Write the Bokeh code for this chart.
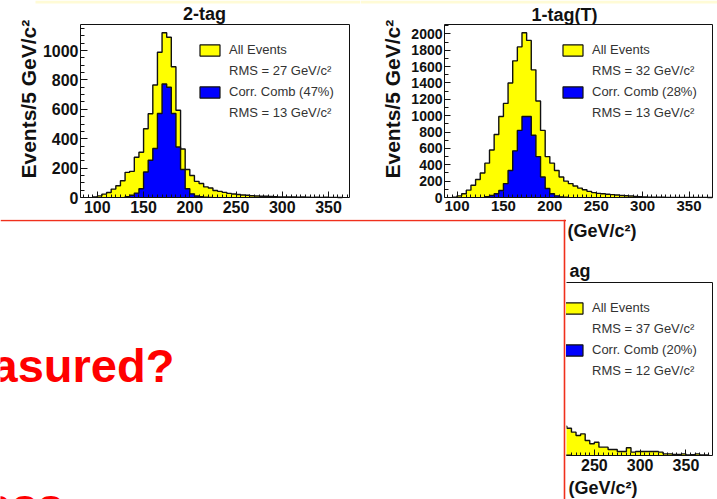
import math
from bokeh.plotting import figure
from bokeh.models import (Range1d, Legend, LegendItem, Label, Span, BoxAnnotation,
                          LinearAxis, FixedTicker)
from bokeh.layouts import row, column
from bokeh.embed import file_html
from bokeh.resources import INLINE

# ---------------- data (events per 5 GeV/c^2 bin, bin lower edges) ----------------
BIN = 5

tag2_title = "2-tag"
tag2_all_start = 95
tag2_all = [3, 11, 23, 34, 57, 80, 114, 171, 178, 274,
            308, 468, 570, 765, 988, 1121, 1090, 890, 594, 330,
            190, 150, 110, 95, 72, 65, 48, 42, 35, 28,
            24, 20, 17, 15, 12, 10, 9, 8, 7, 6,
            4, 4, 3, 3, 2, 3, 2, 1, 2, 1,
            2, 1, 1, 0]
tag2_cc_start = 130
tag2_cc = [5, 15, 30, 60, 173, 253, 333, 572, 772, 750,
           572, 344, 190, 60, 25, 10, 5, 2, 1]
tag2_labels = ["All Events", "RMS = 27 GeV/c²", "Corr. Comb (47%)", "RMS = 13 GeV/c²"]
tag2_yticks = [0, 200, 400, 600, 800, 1000]

tag1t_title = "1-tag(T)"
tag1t_all_start = 95
tag1t_all = [5, 20, 45, 90, 150, 220, 300, 420, 580, 770,
             990, 1150, 1400, 1670, 1840, 2013, 1920, 1560, 1180, 820,
             500, 420, 330, 250, 200, 170, 140, 115, 95, 75,
             60, 50, 45, 40, 35, 30, 25, 22, 18, 14,
             10, 6, 5, 4, 3, 3, 2, 2, 2, 1,
             1, 1, 2, 1, 1, 0]
tag1t_cc_start = 130
tag1t_cc = [10, 25, 45, 85, 170, 330, 570, 820, 990, 990,
            760, 500, 250, 110, 45, 20, 8, 3]
tag1t_labels = ["All Events", "RMS = 32 GeV/c²", "Corr. Comb (28%)", "RMS = 13 GeV/c²"]
tag1t_yticks = [0, 200, 400, 600, 800, 1000, 1200, 1400, 1600, 1800, 2000]

tag0_title = "ag"
tag0_all_start = 215
tag0_all = [270, 252, 216, 185, 200, 139, 108, 123, 77, 77,
            55, 55, 37, 37, 71, 31, 37, 37, 37, 37,
            37, 31, 15, 15, 10, 10, 15, 5, 8, 15,
            4, 4]
tag0_cc_start = 215
tag0_cc = [4, 2]
tag0_labels = ["All Events", "RMS = 37 GeV/c²", "Corr. Comb (20%)", "RMS = 12 GeV/c²"]

x_ticks = [100, 150, 200, 250, 300, 350]
y_label = "Events/5 GeV/c²"
x_label = "(GeV/c²)"
red_text_1 = "asured?"
red_text_2 = "ass"

YELLOW = "#ffff00"
BLUE = "#0000ff"
INK = "#111111"
RED_LINE = "#f0301c"
RED_TEXT = "#ff0000"
STRIP = "#fffbd6"
FONT = "Liberation Sans"
NAN = float("nan")


# ---------------- helpers ----------------
def make_fig(canvas, frame, xr, yr):
    """canvas=(x0,y0,w,h) page px; frame=(left,right,top,bottom) page px of the drawn plot box."""
    cx0, cy0, cw, ch = canvas
    fl, fr, ft, fb = frame
    sx = (fr - fl) / (xr[1] - xr[0])
    sy = (fb - ft) / (yr[1] - yr[0])
    x_rng = Range1d(xr[0] - (fl - cx0) / sx, xr[1] + (cx0 + cw - fr) / sx)
    y_rng = Range1d(yr[0] - (cy0 + ch - fb) / sy, yr[1] + (ft - cy0) / sy)
    p = figure(width=cw, height=ch, x_range=x_rng, y_range=y_rng,
               output_backend="svg", toolbar_location=None, min_border=0,
               x_axis_location=None, y_axis_location=None, frame_align=False,
               background_fill_color="white", border_fill_color="white")
    p.outline_line_color = None
    p.grid.visible = False
    p._canvas = canvas
    p._sx = sx
    p._sy = sy
    return p


def top_strip(p, px0, px1, thick):
    """light band along the very top of the slide"""
    cx0, cy0, cw, ch = p._canvas
    x0 = p.x_range.start + (px0 - cx0) / p._sx
    x1 = p.x_range.start + (px1 - cx0) / p._sx
    p.add_layout(BoxAnnotation(left=x0, right=x1, top=p.y_range.end,
                               bottom=p.y_range.end - thick / p._sy,
                               fill_color=STRIP, fill_alpha=1, line_alpha=0,
                               level="underlay"))


def hist(p, start, vals, color):
    x = [start + BIN * i for i in range(len(vals) + 1)]
    p.varea_step(x=x, y1=0, y2=list(vals) + [vals[-1]], step_mode="after",
                 fill_color=color)
    ox = [x[0]] + x
    oy = [0] + list(vals) + [0]
    p.step(x=ox, y=oy, mode="after", line_color=INK, line_width=1.4)


def add_axis(p, place, loc, ticks, minor, tin, min_in, size, standoff):
    ax = LinearAxis(fixed_location=loc,
                    ticker=FixedTicker(ticks=ticks, minor_ticks=minor))
    ax.major_tick_in = tin
    ax.major_tick_out = 0
    ax.minor_tick_in = min_in
    ax.minor_tick_out = 0
    ax.major_label_text_font = FONT
    ax.major_label_text_font_style = "bold"
    ax.major_label_text_font_size = size
    ax.major_label_text_color = INK
    ax.major_label_standoff = standoff
    ax.axis_line_color = None
    ax.major_tick_line_color = INK
    ax.minor_tick_line_color = INK
    p.add_layout(ax, place)


def text(p, px, py, s, size, color=INK, align="left", angle=0.0):
    """px: page x of anchor, py: page y of text baseline (horizontal text)
    or page y of anchor (rotated text)."""
    cx0, cy0, cw, ch = p._canvas
    fs = float(size.replace("px", ""))
    if angle == 0.0:
        py = py - 0.35 * fs
    p.add_layout(Label(x=px - cx0, y=cy0 + ch - py, x_units="screen", y_units="screen",
                       text=s, text_font=FONT, text_font_style="bold",
                       text_font_size=size, text_color=color, text_align=align,
                       text_baseline="middle", angle=angle))


def add_legend(p, px_left, py_bottom, labels):
    cx0, cy0, cw, ch = p._canvas
    sw_all = p.quad(left=[NAN], right=[NAN], top=[NAN], bottom=[NAN],
                    fill_color=YELLOW, line_color=INK, line_width=1.2)
    sw_cc = p.quad(left=[NAN], right=[NAN], top=[NAN], bottom=[NAN],
                   fill_color=BLUE, line_color=INK, line_width=1.2)
    blank = p.quad(left=[NAN], right=[NAN], top=[NAN], bottom=[NAN],
                   fill_alpha=0, line_alpha=0)
    items = [LegendItem(label=labels[0], renderers=[sw_all]),
             LegendItem(label=labels[1], renderers=[blank]),
             LegendItem(label=labels[2], renderers=[sw_cc]),
             LegendItem(label=labels[3], renderers=[blank])]
    leg = Legend(items=items, location=(px_left - cx0, cy0 + ch - py_bottom),
                 border_line_color=None, background_fill_alpha=0, padding=0,
                 margin=0, spacing=6, label_standoff=7, glyph_width=25,
                 glyph_height=14, label_height=14, label_text_font=FONT,
                 label_text_font_size="13px", label_text_color="#333333")
    p.add_layout(leg)


def minor_list(lo, hi, step):
    out = []
    v = lo
    while v <= hi:
        out.append(v)
        v += step
    return out


# ---------------- panel 1: 2-tag ----------------
XR_A, YR_A = (81.8, 372.7), (0, 1177)
pA = make_fig((0, 0, 360, 219), (80, 349, 24, 197), XR_A, YR_A)
top_strip(pA, 35, 360, 3)
hist(pA, tag2_all_start, tag2_all, YELLOW)
hist(pA, tag2_cc_start, tag2_cc, BLUE)
pA.add_layout(BoxAnnotation(left=XR_A[0], right=XR_A[1], bottom=YR_A[0], top=YR_A[1],
                            fill_alpha=0, line_color=INK, line_alpha=1, line_width=1))
add_axis(pA, "below", YR_A[0], x_ticks, minor_list(85, 370, 5), 6, 3, "16px", 3)
add_axis(pA, "left", XR_A[0], tag2_yticks, minor_list(50, 1150, 50), 7, 4, "16px", 2)
add_legend(pA, 197, 120, tag2_labels)
text(pA, 204, 20, tag2_title, "18px", align="center")
text(pA, 28, 178, y_label, "21px", angle=math.pi / 2)

# ---------------- panel 2: 1-tag(T) ----------------
XR_B, YR_B = (86.5, 375.3), (0, 2114)
pB = make_fig((360, 0, 357, 219), (444, 712, 24, 197), XR_B, YR_B)
top_strip(pB, 360, 717, 3)
hist(pB, tag1t_all_start, tag1t_all, YELLOW)
hist(pB, tag1t_cc_start, tag1t_cc, BLUE)
pB.add_layout(BoxAnnotation(left=XR_B[0], right=XR_B[1], bottom=YR_B[0], top=YR_B[1],
                            fill_alpha=0, line_color=INK, line_alpha=1, line_width=1))
add_axis(pB, "below", YR_B[0], x_ticks, minor_list(90, 375, 5), 6, 3, "15px", 3)
add_axis(pB, "left", XR_B[0], tag1t_yticks, minor_list(100, 2100, 100), 6, 4, "14px", 2)
add_legend(pB, 560, 120, tag1t_labels)
text(pB, 564, 20.5, tag1t_title, "18px", align="center")
text(pB, 392, 178, y_label, "21px", angle=math.pi / 2)

# ---------------- red box (overlay) ----------------
pC = make_fig((0, 219, 566, 280), (0, 566, 219, 499), (0, 566), (0, 280))
pC.add_layout(Span(location=279, dimension="width", line_color=RED_LINE, line_width=1.6))
pC.add_layout(Span(location=564, dimension="height", line_color=RED_LINE, line_width=1.6))
text(pC, -9, 381, red_text_1, "47px", color=RED_TEXT)
text(pC, -15, 520, red_text_2, "47px", color=RED_TEXT)

# ---------------- panel 3 (mostly hidden behind the box) ----------------
XR_D, YR_D = (219.6, 379.0), (0, 1600)
pD = make_fig((566, 219, 151, 280), (566, 712, 282, 455), XR_D, YR_D)
hist(pD, tag0_all_start, tag0_all, YELLOW)
hist(pD, tag0_cc_start, tag0_cc, BLUE)
pD.add_layout(BoxAnnotation(left=XR_D[0] - 3 / pD._sx, right=XR_D[1], bottom=YR_D[0],
                            top=YR_D[1], fill_alpha=0, line_color=INK, line_alpha=1,
                            line_width=1))
add_axis(pD, "below", YR_D[0], [250, 300, 350], minor_list(225, 375, 5), 6, 3, "16px", 3)
add_legend(pD, 560, 378, tag0_labels)
text(pD, 590, 277, tag0_title, "18px", align="right")
text(pD, 567, 237, x_label, "18px")
text(pD, 568, 494, x_label, "18px")

layout = column(row(pA, pB), row(pC, pD))
open("out.html", "w").write(file_html(layout, INLINE))
